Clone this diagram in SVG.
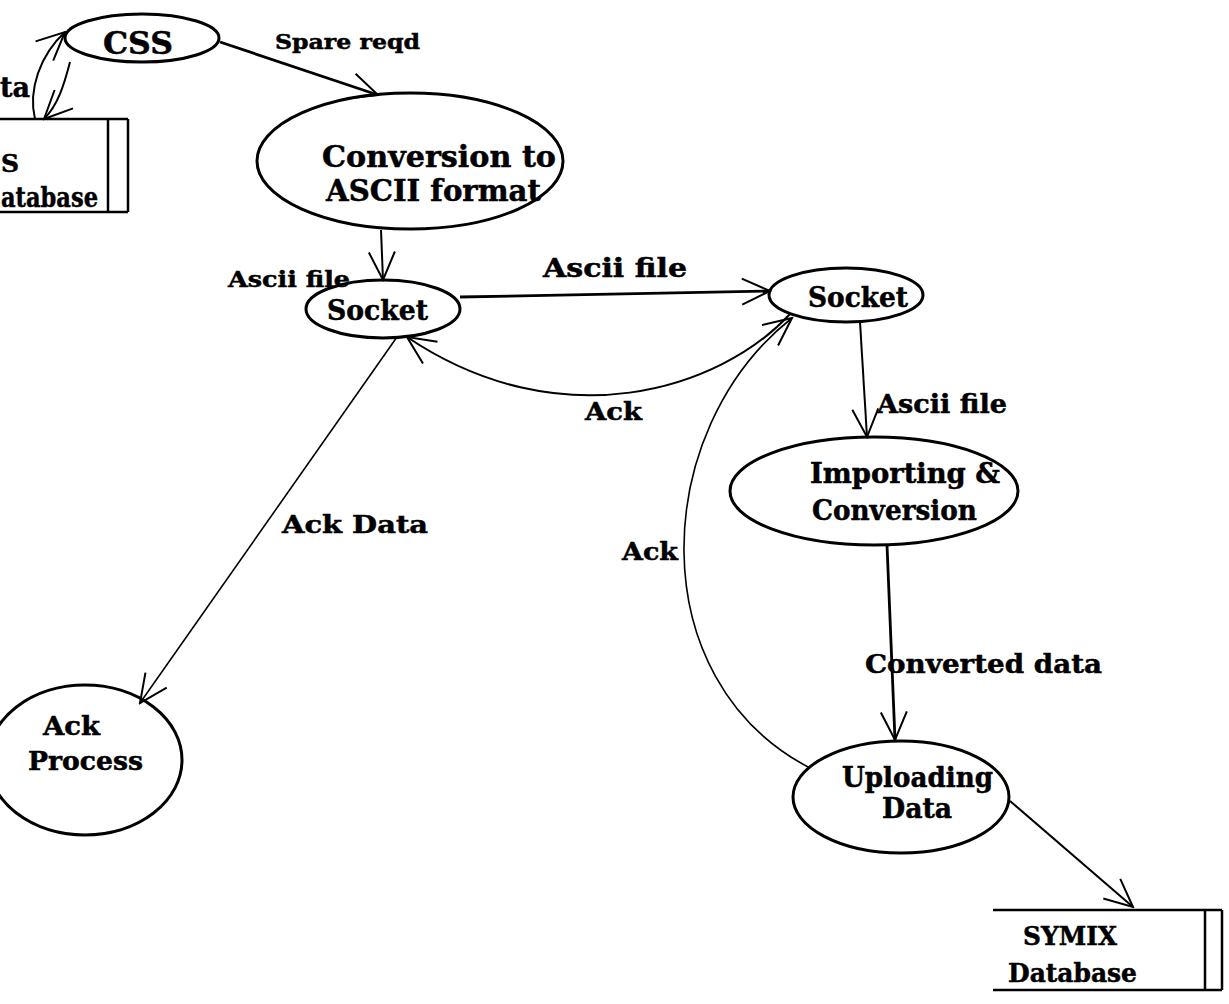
<svg xmlns="http://www.w3.org/2000/svg" width="1229" height="1004" viewBox="0 0 1229 1004">
<defs>
<style>
.bg{fill:#fff}
.node{fill:none;stroke:#000;stroke-width:3}
.box{fill:none;stroke:#000;stroke-width:2.5}
.t{font-family:"DejaVu Serif","Liberation Serif",serif;font-weight:bold;fill:#000;stroke:#000;stroke-width:0.5}
.c{stroke:#000;fill:none;stroke-width:2}
.thin{stroke-width:1.6}
.thick{stroke-width:2.8}
</style>
<marker id="arr" viewBox="-32 -16 34 32" refX="0" refY="0" markerWidth="34" markerHeight="32" markerUnits="userSpaceOnUse" orient="auto">
<path d="M-28,-13 L0,0 L-28,13" fill="none" stroke="#000" stroke-width="2"/>
</marker>
</defs>
<rect class="bg" x="0" y="0" width="1229" height="1004"/>

<g id="css-database">
<path class="box" d="M0,119 H128 M0,212 H128 M108,119 V212 M128,119 V212"/>
<text class="t" x="1" y="172" font-size="25">S</text>
<text class="t" x="1" y="207" font-size="28" textLength="97" lengthAdjust="spacingAndGlyphs">atabase</text>
</g>

<g id="css">
<ellipse class="node" cx="142" cy="38" rx="77" ry="24"/>
<text class="t" x="103" y="54" font-size="31" textLength="70" lengthAdjust="spacingAndGlyphs">CSS</text>
</g>

<g id="conversion">
<ellipse class="node" cx="410" cy="161" rx="153" ry="68"/>
<text class="t" x="322" y="167" font-size="29" textLength="234" lengthAdjust="spacingAndGlyphs">Conversion to</text>
<text class="t" x="326" y="201" font-size="29" textLength="215" lengthAdjust="spacingAndGlyphs">ASCII format</text>
</g>

<g id="socket1">
<ellipse class="node" cx="383" cy="309" rx="77" ry="29"/>
<text class="t" x="327" y="320" font-size="28" textLength="101" lengthAdjust="spacingAndGlyphs">Socket</text>
</g>

<g id="socket2">
<ellipse class="node" cx="846" cy="295" rx="77" ry="27"/>
<text class="t" x="808" y="307" font-size="28" textLength="100" lengthAdjust="spacingAndGlyphs">Socket</text>
</g>

<g id="importing">
<ellipse class="node" cx="874" cy="491" rx="144" ry="54"/>
<text class="t" x="810" y="483" font-size="28" textLength="190" lengthAdjust="spacingAndGlyphs">Importing &amp;</text>
<text class="t" x="812" y="520" font-size="28" textLength="165" lengthAdjust="spacingAndGlyphs">Conversion</text>
</g>

<g id="uploading">
<ellipse class="node" cx="901" cy="797" rx="108" ry="56"/>
<text class="t" x="842" y="787" font-size="27" textLength="151" lengthAdjust="spacingAndGlyphs">Uploading</text>
<text class="t" x="882" y="818" font-size="27" textLength="70" lengthAdjust="spacingAndGlyphs">Data</text>
</g>

<g id="ack-process">
<ellipse class="node" cx="85" cy="760" rx="97" ry="75"/>
<text class="t" x="43" y="735" font-size="26" textLength="57" lengthAdjust="spacingAndGlyphs">Ack</text>
<text class="t" x="28" y="770" font-size="26" textLength="115" lengthAdjust="spacingAndGlyphs">Process</text>
</g>

<g id="symix-database">
<path class="box" d="M993,910 H1222 M993,990 H1222 M1205,910 V990 M1222,910 V990"/>
<text class="t" x="1023" y="945" font-size="26" textLength="94" lengthAdjust="spacingAndGlyphs">SYMIX</text>
<text class="t" x="1008" y="982" font-size="26" textLength="129" lengthAdjust="spacingAndGlyphs">Database</text>
</g>

<g id="connectors">
<path class="c" d="M35,119 C28,90 40,55 65,32" marker-end="url(#arr)"/>
<path class="c" d="M70,62 C64,85 58,105 44,119" marker-end="url(#arr)"/>
<path class="c thick" d="M220,42 L378,95" marker-end="url(#arr)"/>
<path class="c" d="M381,230 L383,280" marker-end="url(#arr)"/>
<path class="c thick" d="M460,297 L770,291" marker-end="url(#arr)"/>
<path class="c" d="M790,314 C720,390 560,440 407,337" marker-end="url(#arr)"/>
<path class="c thin" d="M397,337 L140,703" marker-end="url(#arr)"/>
<path class="c" d="M860,322 L867,437" marker-end="url(#arr)"/>
<path class="c thick" d="M887,545 L895,740" marker-end="url(#arr)"/>
<path class="c thin" d="M810,768 C640,680 650,430 792,318" marker-end="url(#arr)"/>
<path class="c" d="M1010,801 L1133,907" marker-end="url(#arr)"/>
</g>

<g id="labels">
<text class="t" x="0" y="97" font-size="27" textLength="30" lengthAdjust="spacingAndGlyphs">ta</text>
<text class="t" x="275" y="49" font-size="21" textLength="145" lengthAdjust="spacingAndGlyphs">Spare reqd</text>
<text class="t" x="228" y="287" font-size="22" textLength="122" lengthAdjust="spacingAndGlyphs">Ascii file</text>
<text class="t" x="543" y="277" font-size="26" textLength="144" lengthAdjust="spacingAndGlyphs">Ascii file</text>
<text class="t" x="585" y="420" font-size="25" textLength="57" lengthAdjust="spacingAndGlyphs">Ack</text>
<text class="t" x="282" y="533" font-size="25" textLength="146" lengthAdjust="spacingAndGlyphs">Ack  Data</text>
<text class="t" x="877" y="413" font-size="26" textLength="130" lengthAdjust="spacingAndGlyphs">Ascii file</text>
<text class="t" x="622" y="560" font-size="25" textLength="56" lengthAdjust="spacingAndGlyphs">Ack</text>
<text class="t" x="865" y="673" font-size="26" textLength="237" lengthAdjust="spacingAndGlyphs">Converted data</text>
</g>
</svg>
